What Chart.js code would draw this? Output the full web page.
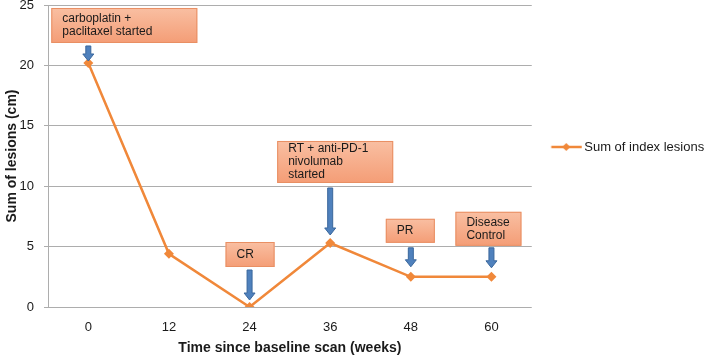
<!DOCTYPE html>
<html lang="en">
<head>
  <meta charset="UTF-8">
  <title>Sum of index lesions</title>
  <script src="https://cdn.jsdelivr.net/npm/chart.js"></script>
  <style>
    html, body { margin: 0; padding: 0; background: #fff; }
    #chart-container { width: 709px; height: 357px; }
  </style>
</head>
<body>
  <div id="chart-container">
    <canvas id="lesionChart" width="709" height="357"></canvas>
  </div>
  <script>
    // Data
    const weeks = ['0', '12', '24', '36', '48', '60'];
    const lesionSums = [20.2, 4.4, 0, 5.3, 2.5, 2.5];
    const yMin = 0, yMax = 25, yStep = 5;
    const seriesName = 'Sum of index lesions';
    const xTitle = 'Time since baseline scan (weeks)';
    const yTitle = 'Sum of lesions (cm)';
    // Callout text per point (null = no callout)
    const noteTexts = [
      ['carboplatin +', 'paclitaxel started'],
      null,
      ['CR'],
      ['RT + anti-PD-1', 'nivolumab', 'started'],
      ['PR'],
      ['Disease', 'Control']
    ];

    // Callout placement, offsets in px from the data point
    const noteLayout = [
      { x0: -37, x1: 109, y0: -55, y1: -20, a0: -17, a1: -2 },
      null,
      { x0: -24, x1: 25, y0: -65, y1: -40, a0: -37, a1: -7 },
      { x0: -53, x1: 63, y0: -102, y1: -60, a0: -55, a1: -8 },
      { x0: -25, x1: 24, y0: -58, y1: -34, a0: -29, a1: -10 },
      { x0: -36, x1: 30, y0: -65, y1: -31, a0: -29, a1: -9 }
    ];

    const orange = '#f0883a';
    const axisGray = '#adadad';

    // legend marker: line with a diamond (drawn wider than its slot)
    function legendMarker() {
      const c = document.createElement('canvas');
      c.width = 46; c.height = 12;
      const g = c.getContext('2d');
      g.strokeStyle = orange;
      g.lineWidth = 2.5;
      g.beginPath(); g.moveTo(14.5, 6); g.lineTo(45, 6); g.stroke();
      g.fillStyle = orange;
      g.beginPath();
      g.moveTo(29.5, 2); g.lineTo(33.5, 6); g.lineTo(29.5, 10); g.lineTo(25.5, 6);
      g.closePath(); g.fill();
      return c;
    }

    function drawArrow(ctx, x, yTop, yBot) {
      const shaftW = 5, headW = 11, headH = 7;
      ctx.beginPath();
      ctx.moveTo(x - shaftW / 2, yTop);
      ctx.lineTo(x + shaftW / 2, yTop);
      ctx.lineTo(x + shaftW / 2, yBot - headH);
      ctx.lineTo(x + headW / 2, yBot - headH);
      ctx.lineTo(x, yBot);
      ctx.lineTo(x - headW / 2, yBot - headH);
      ctx.lineTo(x - shaftW / 2, yBot - headH);
      ctx.closePath();
      ctx.fillStyle = '#4f81bd';
      ctx.fill();
      ctx.strokeStyle = '#3a679c';
      ctx.lineWidth = 1;
      ctx.stroke();
    }

    const calloutPlugin = {
      id: 'calloutPlugin',
      afterLayout(chart) {
        // lift the legend so it sits level with the RT callout, as in the figure
        chart.legend.bottom -= 68;
      },
      afterDatasetsDraw(chart) {
        const { ctx } = chart;
        const meta = chart.getDatasetMeta(0);
        ctx.save();
        noteTexts.forEach((lines, i) => {
          if (!lines) return;
          const pt = meta.data[i];
          const L = noteLayout[i];
          const x0 = pt.x + L.x0, x1 = pt.x + L.x1;
          const y0 = pt.y + L.y0, y1 = pt.y + L.y1;
          const grad = ctx.createLinearGradient(0, y0, 0, y1);
          grad.addColorStop(0, '#f9bfa2');
          grad.addColorStop(1, '#f49d76');
          ctx.fillStyle = grad;
          ctx.fillRect(x0, y0, x1 - x0, y1 - y0);
          ctx.strokeStyle = '#e98f63';
          ctx.lineWidth = 1;
          ctx.strokeRect(x0 + 0.5, y0 + 0.5, x1 - x0 - 1, y1 - y0 - 1);
          ctx.fillStyle = '#1a1a1a';
          ctx.font = '12px "Liberation Sans", Arial, sans-serif';
          ctx.textAlign = 'left';
          ctx.textBaseline = 'middle';
          const lh = 13;
          const mid = (y0 + y1) / 2;
          lines.forEach((t, k) => {
            ctx.fillText(t, x0 + 11, mid + (k - (lines.length - 1) / 2) * lh);
          });
          drawArrow(ctx, pt.x, pt.y + L.a0, pt.y + L.a1);
        });
        ctx.restore();
      }
    };

    Chart.defaults.font.family = '"Liberation Sans", Arial, sans-serif';
    Chart.defaults.color = '#1a1a1a';

    const ctx = document.getElementById('lesionChart').getContext('2d');
    new Chart(ctx, {
      type: 'line',
      data: {
        labels: weeks,
        datasets: [{
          label: seriesName,
          data: lesionSums,
          borderColor: orange,
          backgroundColor: orange,
          borderWidth: 2.5,
          pointStyle: 'rectRot',
          pointRadius: 5,
          pointBackgroundColor: orange,
          pointBorderWidth: 0,
          tension: 0
        }]
      },
      options: {
        responsive: false,
        animation: false,
        maintainAspectRatio: false,
        layout: { padding: { top: 5, right: 0, left: 0, bottom: 0 } },
        plugins: {
          legend: {
            position: 'right',
            labels: {
              usePointStyle: true,
              pointStyle: legendMarker(),
              pointStyleWidth: 36,
              font: { size: 13 },
              color: '#1a1a1a',
              padding: 10
            }
          },
          tooltip: { enabled: false }
        },
        scales: {
          x: {
            offset: true,
            grid: { display: false, drawTicks: false },
            border: { display: false },
            ticks: { font: { size: 13 }, padding: 13 },
            title: {
              display: true, text: xTitle,
              font: { size: 14, weight: 'bold' },
              padding: { top: 2, bottom: 0 }
            },
            afterFit(s) { s.height = 50; s.paddingLeft = 0; s.paddingRight = 0; }
          },
          y: {
            min: yMin, max: yMax,
            ticks: { stepSize: yStep, font: { size: 13 }, padding: 10 },
            grid: { color: axisGray, lineWidth: 1, tickLength: 4 },
            border: { color: axisGray },
            title: {
              display: true, text: yTitle,
              font: { size: 14, weight: 'bold' },
              padding: { top: 4, bottom: 4 }
            },
            afterFit(s) { s.width = 48; s.paddingTop = 0; s.paddingBottom = 0; }
          }
        }
      },
      plugins: [calloutPlugin]
    });
  </script>
</body>
</html>
